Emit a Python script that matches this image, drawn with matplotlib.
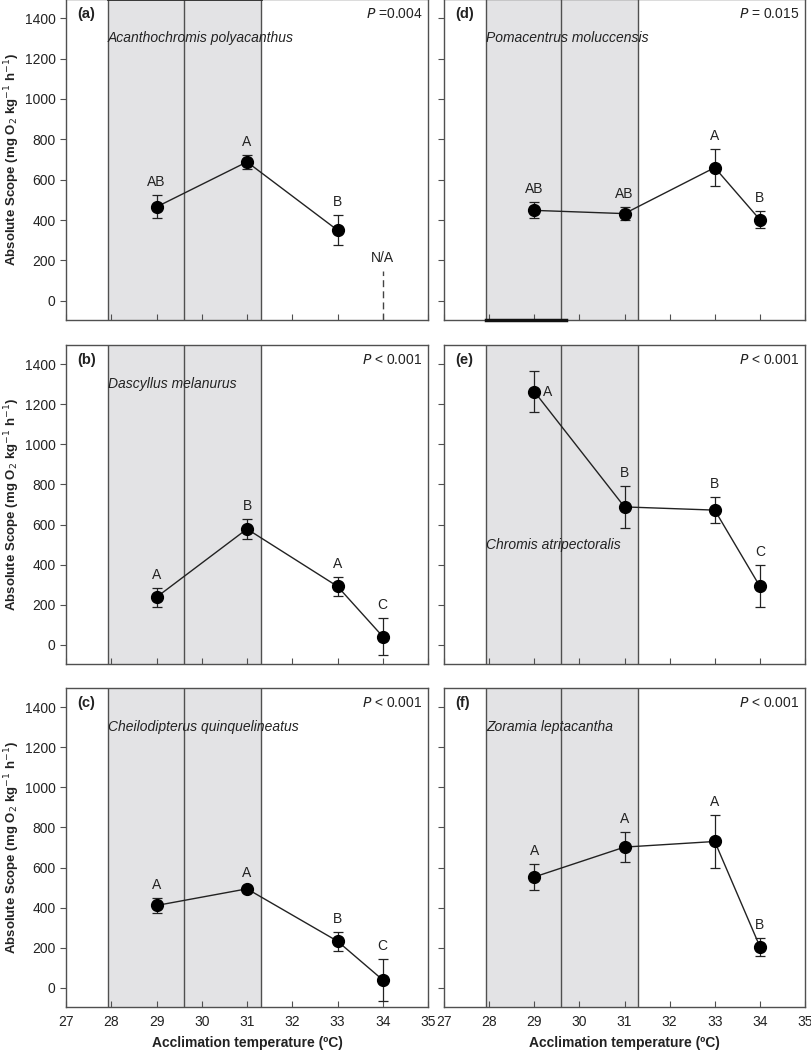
import numpy as np
import matplotlib
matplotlib.use('Agg')
import matplotlib.pyplot as plt

plt.rcParams['font.family'] = ['Liberation Sans', 'DejaVu Sans']

temps = [29, 31, 33, 34]

# panel data: mean and s.e.
panel_ids = ['a', 'b', 'c', 'd', 'e', 'f']
species = ['Acanthochromis polyacanthus', 'Dascyllus melanurus',
           'Cheilodipterus quinquelineatus', 'Pomacentrus moluccensis',
           'Chromis atripectoralis', 'Zoramia leptacantha']
p_text = [' =0.004', ' < 0.001', ' < 0.001', ' = 0.015', ' < 0.001', ' < 0.001']

means_a = [465, 688, 350]
err_a = [57, 33, 73]
means_b = [238, 578, 292, 42]
err_b = [48, 50, 47, 90]
means_c = [411, 494, 233, 40]
err_c = [36, 15, 47, 103]
means_d = [448, 432, 660, 402]
err_d = [40, 33, 92, 42]
means_e = [1263, 688, 672, 292]
err_e = [101, 105, 63, 104]
means_f = [553, 702, 730, 206]
err_f = [63, 75, 130, 45]

letters_a = ['AB', 'A', 'B']
letters_b = ['A', 'B', 'A', 'C']
letters_c = ['A', 'A', 'B', 'C']
letters_d = ['AB', 'AB', 'A', 'B']
letters_e = ['A', 'B', 'B', 'C']
letters_f = ['A', 'A', 'A', 'B']

means = [means_a, means_b, means_c, means_d, means_e, means_f]
errs = [err_a, err_b, err_c, err_d, err_e, err_f]
letters = [letters_a, letters_b, letters_c, letters_d, letters_e, letters_f]

W, H = 812, 1050
fig = plt.figure(figsize=(W / 100, H / 100), dpi=100)

cols_px = [(66, 428), (444, 805)]
rows_px = [(-1, 320), (345, 664), (688, 1007)]

YLO, YHI = -95, 1495
grey = '#e3e3e5'
edge = '#505050'
txt = '#222222'

for k in range(6):
    col = k // 3
    row = k % 3
    x0, x1 = cols_px[col]
    t, b = rows_px[row]
    ax = fig.add_axes([x0 / W, (H - b) / H, (x1 - x0) / W, (b - t) / H])

    # shaded temperature band
    ax.axvspan(27.93, 31.3, color=grey, zorder=0, lw=0)
    for xv in [27.93, 29.6, 31.3]:
        ax.axvline(xv, color=edge, lw=1.0, zorder=1)

    m = means[k]
    e = errs[k]
    xs = temps[:len(m)]
    ax.errorbar(xs, m, yerr=e, fmt='o', color='black', ms=8.5, capsize=3.5,
                elinewidth=0.9, capthick=0.9, ecolor='#222222', zorder=4)
    ax.plot(xs, m, color='#222222', lw=1.0, zorder=3)

    for xi, yi, ei, lab in zip(xs, m, e, letters[k]):
        if k == 4 and xi == 29:
            ax.text(xi + 0.2, yi, lab, ha='left', va='center', fontsize=10, color=txt)
        else:
            ax.text(xi, yi + ei + 30, lab, ha='center', va='bottom', fontsize=10, color=txt)

    if k == 0:
        ax.plot([34, 34], [YLO, 150], ls=(0, (5, 3)), color='#444444', lw=1.0)
        ax.text(34, 175, 'N/A', ha='center', va='bottom', fontsize=10, color=txt)
        # edge at the crop line
        ax.plot([27.93, 31.3], [YHI, YHI], color='#222222', lw=2.0, clip_on=False)
    if k == 3:
        ax.plot([27.93, 29.7], [YLO, YLO], color='#111111', lw=2.5, clip_on=False, zorder=5)

    sy = 500 if k == 4 else 1300
    ax.text(27.93, sy, species[k], style='italic', fontsize=10, color=txt,
            ha='left', va='center')
    ax.text(0.03, 0.975, '(' + panel_ids[k] + ')', transform=ax.transAxes,
            fontweight='bold', fontsize=10.5, color=txt, ha='left', va='top')
    ax.text(0.985, 0.975, r'$\it{P}$' + p_text[k], transform=ax.transAxes,
            fontsize=10, color=txt, ha='right', va='top')

    ax.set_xlim(27, 35)
    ax.set_ylim(YLO, YHI)
    ax.set_xticks(np.arange(27, 36, 1))
    ax.set_yticks(np.arange(0, 1401, 200))
    ax.tick_params(axis='x', direction='in', length=4, color=edge, labelsize=10,
                   labelcolor=txt, pad=6)
    ax.tick_params(axis='y', direction='out', length=4, color=edge, labelsize=10,
                   labelcolor=txt)
    for s in ax.spines.values():
        s.set_color(edge)
        s.set_linewidth(1.0)
    if row != 2:
        ax.set_xticklabels([])
    else:
        ax.set_xlabel('Acclimation temperature (ºC)', fontweight='bold', fontsize=10,
                      color=txt, labelpad=5)
    if col == 1:
        ax.set_yticklabels([])
    else:
        ax.set_ylabel(r'Absolute Scope (mg O$_2$ kg$^{-1}$ h$^{-1}$)', fontweight='bold',
                      fontsize=9.5, color=txt, labelpad=2)

fig.savefig('out.png', dpi=100)
